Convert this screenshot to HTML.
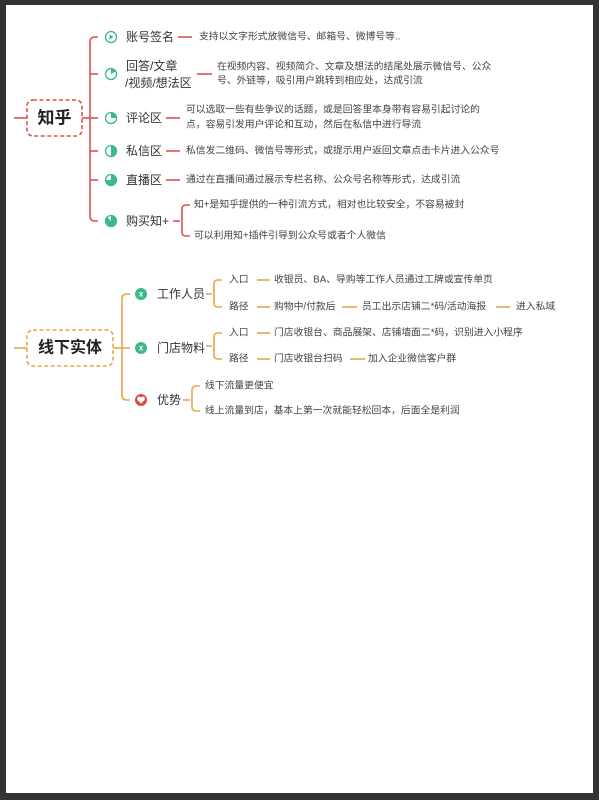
<!DOCTYPE html>
<html><head><meta charset="utf-8"><style>
html,body{margin:0;padding:0;background:#333;}
svg{display:block;}
text{font-family:"Liberation Sans","Noto Sans CJK SC",sans-serif;fill:#333;dominant-baseline:central;}
.l{font-size:12px;}
.s{font-size:9.8px;fill:#444;}
</style></head><body>
<svg width="599" height="800" viewBox="0 0 599 800" xmlns="http://www.w3.org/2000/svg">
<rect x="0" y="0" width="599" height="800" fill="#333"/>
<rect x="6" y="5" width="587" height="788" fill="#fff"/>
<g fill="none" stroke="#d9534f" stroke-width="1.6">
<line x1="14" y1="118" x2="27" y2="118"/>
<line x1="82" y1="118" x2="90" y2="118"/>
<path d="M98 37 H95 Q90 37 90 42 V216 Q90 221 95 221 H98"/>
<line x1="90" y1="74" x2="98" y2="74"/>
<line x1="90" y1="118" x2="98" y2="118"/>
<line x1="90" y1="151" x2="98" y2="151"/>
<line x1="90" y1="180" x2="98" y2="180"/>
<line x1="178" y1="37" x2="192" y2="37"/>
<line x1="197" y1="74" x2="212" y2="74"/>
<line x1="166" y1="118" x2="180" y2="118"/>
<line x1="166" y1="151" x2="180" y2="151"/>
<line x1="166" y1="180" x2="180" y2="180"/>
<line x1="173" y1="221" x2="180" y2="221"/>
<path d="M190 205 H186 Q182 205 182 209 V232 Q182 236 186 236 H190"/>
<rect x="27" y="100" width="55" height="36" rx="6" stroke-dasharray="4 2.5"/>
</g>
<text x="54.5" y="118" text-anchor="middle" style="font-size:17px;font-weight:bold;fill:#222">知乎</text>
<g>
<circle cx="111" cy="37" r="5.5" fill="#fff" stroke="#3cb88a" stroke-width="1.3"/><path d="M109.5 34.5 L113.5 37 L109.5 39.5Z" fill="#3cb88a"/>
<circle cx="111" cy="74" r="5.5" fill="#fff" stroke="#3cb88a" stroke-width="1.3"/><path d="M111 74 V68.5 A5.5 5.5 0 0 1 115.8 71.3Z" fill="#3cb88a"/>
<circle cx="111" cy="118" r="5.5" fill="#fff" stroke="#3cb88a" stroke-width="1.3"/><path d="M111 118 V112.5 A5.5 5.5 0 0 1 116.5 118Z" fill="#3cb88a"/>
<circle cx="111" cy="151" r="5.5" fill="#fff" stroke="#3cb88a" stroke-width="1.3"/><path d="M111 145.5 A5.5 5.5 0 0 1 111 156.5Z" fill="#3cb88a"/>
<circle cx="111" cy="180" r="5.5" fill="#fff" stroke="#3cb88a" stroke-width="1.3"/><path d="M111 180 V174.5 A5.5 5.5 0 1 1 105.5 180Z" fill="#3cb88a"/>
<circle cx="111" cy="221" r="5.5" fill="#fff" stroke="#3cb88a" stroke-width="1.3"/><path d="M111 221 V215.5 A5.5 5.5 0 1 1 107.1 217.1Z" fill="#3cb88a"/>
</g>
<text class="l" x="126" y="37">账号签名</text>
<text class="l" x="126" y="66">回答/文章</text>
<text class="l" x="125" y="83">/视频/想法区</text>
<text class="l" x="126" y="118">评论区</text>
<text class="l" x="126" y="151">私信区</text>
<text class="l" x="126" y="180">直播区</text>
<text class="l" x="126" y="221">购买知+</text>
<text class="s" x="199" y="37">支持以文字形式放微信号、邮箱号、微博号等..</text>
<text class="s" x="217" y="67">在视频内容、视频简介、文章及想法的结尾处展示微信号、公众</text>
<text class="s" x="217" y="81">号、外链等，吸引用户跳转到相应处，达成引流</text>
<text class="s" x="186" y="110">可以选取一些有些争议的话题，或是回答里本身带有容易引起讨论的</text>
<text class="s" x="186" y="125">点，容易引发用户评论和互动，然后在私信中进行导流</text>
<text class="s" x="186" y="151">私信发二维码、微信号等形式，或提示用户返回文章点击卡片进入公众号</text>
<text class="s" x="186" y="180">通过在直播间通过展示专栏名称、公众号名称等形式，达成引流</text>
<text class="s" x="194" y="205">知+是知乎提供的一种引流方式，相对也比较安全，不容易被封</text>
<text class="s" x="194" y="236">可以利用知+插件引导到公众号或者个人微信</text>

<g fill="none" stroke="#e8a54a" stroke-width="1.6">
<line x1="14" y1="348" x2="27" y2="348"/>
<line x1="113" y1="348" x2="122" y2="348"/>
<path d="M130 294 H127 Q122 294 122 299 V395 Q122 400 127 400 H130"/>
<line x1="122" y1="348" x2="130" y2="348"/>
<line x1="206" y1="294" x2="212" y2="294"/>
<path d="M222 280 H218 Q214 280 214 284 V303 Q214 307 218 307 H222"/>
<line x1="206" y1="346" x2="212" y2="346"/>
<path d="M222 333 H218 Q214 333 214 337 V355 Q214 359 218 359 H222"/>
<line x1="183" y1="400" x2="190" y2="400"/>
<path d="M200 386 H196 Q192 386 192 390 V407 Q192 411 196 411 H200"/>
<line x1="257" y1="280" x2="270" y2="280"/>
<line x1="257" y1="307" x2="270" y2="307"/>
<line x1="342" y1="307" x2="357" y2="307"/>
<line x1="496" y1="307" x2="510" y2="307"/>
<line x1="257" y1="333" x2="270" y2="333"/>
<line x1="257" y1="359" x2="270" y2="359"/>
<line x1="350" y1="359" x2="365" y2="359"/>
<rect x="27" y="330" width="86" height="36" rx="6" stroke-dasharray="4 2.5"/>
</g>
<text x="70" y="348" text-anchor="middle" style="font-size:16px;font-weight:bold;fill:#222">线下实体</text>
<circle cx="141" cy="294" r="6" fill="#3cb88a"/><text x="141" y="294" text-anchor="middle" style="font-size:8px;fill:#fff;font-weight:bold">ⅹ</text>
<circle cx="141" cy="348" r="6" fill="#3cb88a"/><text x="141" y="348" text-anchor="middle" style="font-size:8px;fill:#fff;font-weight:bold">ⅹ</text>
<circle cx="141" cy="400" r="6" fill="#e04848"/><path d="M141 403.5 L137.5 400 Q136.5 397 139 396.5 Q140.5 396.5 141 398 Q141.5 396.5 143 396.5 Q145.5 397 144.5 400Z" fill="#fff"/>
<text class="l" x="157" y="294">工作人员</text>
<text class="l" x="157" y="348">门店物料</text>
<text class="l" x="157" y="400">优势</text>
<text class="s" x="229" y="280">入口</text>
<text class="s" x="229" y="307">路径</text>
<text class="s" x="229" y="333">入口</text>
<text class="s" x="229" y="359">路径</text>
<text class="s" x="274" y="280">收银员、BA、导购等工作人员通过工牌或宣传单页</text>
<text class="s" x="274" y="307">购物中/付款后</text>
<text class="s" x="362" y="307">员工出示店铺二*码/活动海报</text>
<text class="s" x="516" y="307">进入私域</text>
<text class="s" x="274" y="333">门店收银台、商品展架、店铺墙面二*码，识别进入小程序</text>
<text class="s" x="274" y="359">门店收银台扫码</text>
<text class="s" x="368" y="359">加入企业微信客户群</text>
<text class="s" x="205" y="386">线下流量更便宜</text>
<text class="s" x="205" y="411">线上流量到店，基本上第一次就能轻松回本，后面全是利润</text>
</svg>
</body></html>
